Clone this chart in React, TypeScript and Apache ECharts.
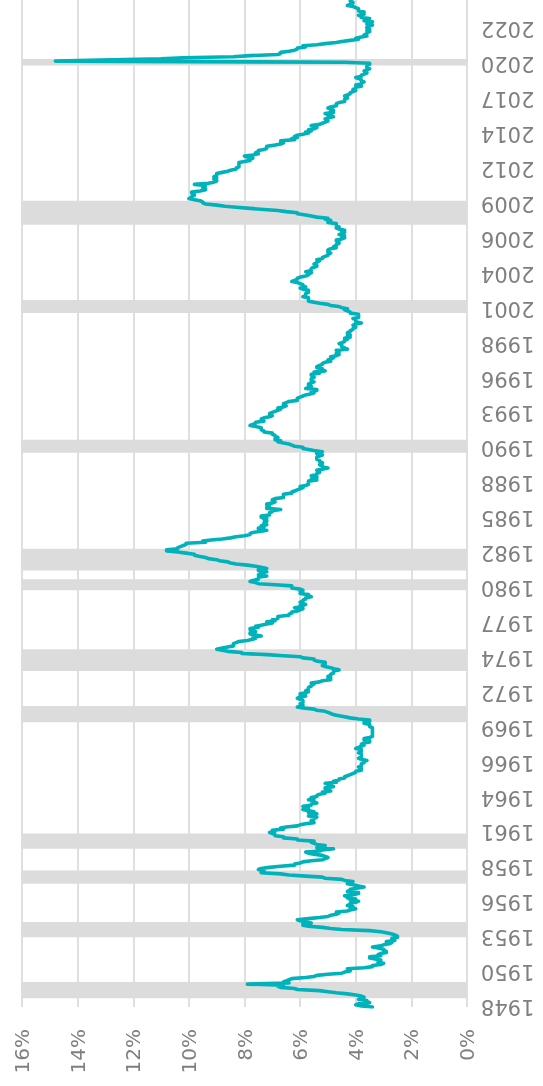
import React, { useEffect, useRef } from "react";
import * as echarts from "echarts";

// Monthly unemployment rate (%), Jan 1948 – Nov 2024
const ur1940s = [
  3.4, 3.8, 4.0, 3.9, 3.5, 3.6, 3.6, 3.9, 3.8, 3.7, 3.8, 4.0,
  4.3, 4.7, 5.0, 5.3, 6.1, 6.2, 6.7, 6.8, 6.6, 7.9, 6.4, 6.6,
];
const ur1950s = [
  6.5, 6.4, 6.3, 5.8, 5.5, 5.4, 5.0, 4.5, 4.4, 4.2, 4.2, 4.3,
  3.7, 3.4, 3.4, 3.1, 3.0, 3.2, 3.1, 3.1, 3.3, 3.5, 3.5, 3.1,
  3.2, 3.1, 2.9, 2.9, 3.0, 3.0, 3.2, 3.4, 3.1, 3.0, 2.8, 2.7,
  2.9, 2.6, 2.6, 2.7, 2.5, 2.5, 2.6, 2.7, 2.9, 3.1, 3.5, 4.5,
  4.9, 5.2, 5.7, 5.9, 5.9, 5.6, 5.8, 6.0, 6.1, 5.7, 5.3, 5.0,
  4.9, 4.7, 4.6, 4.7, 4.3, 4.2, 4.0, 4.2, 4.1, 4.3, 4.2, 4.2,
  4.0, 3.9, 4.2, 4.0, 4.3, 4.3, 4.4, 4.1, 3.9, 3.9, 4.3, 4.2,
  4.2, 3.9, 3.7, 3.9, 4.1, 4.3, 4.2, 4.1, 4.4, 4.5, 5.1, 5.2,
  5.8, 6.4, 6.7, 7.4, 7.4, 7.3, 7.5, 7.4, 7.1, 6.7, 6.2, 6.2,
  6.0, 5.9, 5.6, 5.2, 5.1, 5.0, 5.1, 5.2, 5.5, 5.7, 5.8, 5.3,
];
const ur1960s = [
  5.2, 4.8, 5.4, 5.2, 5.1, 5.4, 5.5, 5.6, 5.5, 6.1, 6.1, 6.6,
  6.6, 6.9, 6.9, 7.0, 7.1, 6.9, 7.0, 6.6, 6.7, 6.5, 6.1, 6.0,
  5.8, 5.5, 5.6, 5.6, 5.5, 5.5, 5.4, 5.7, 5.6, 5.4, 5.7, 5.5,
  5.7, 5.9, 5.7, 5.7, 5.9, 5.6, 5.6, 5.4, 5.5, 5.5, 5.7, 5.5,
  5.6, 5.4, 5.4, 5.3, 5.1, 5.2, 4.9, 5.0, 5.1, 5.1, 4.8, 5.0,
  4.9, 5.1, 4.7, 4.8, 4.6, 4.6, 4.4, 4.4, 4.3, 4.2, 4.1, 4.0,
  4.0, 3.8, 3.8, 3.8, 3.9, 3.8, 3.8, 3.8, 3.7, 3.7, 3.6, 3.8,
  3.9, 3.8, 3.8, 3.8, 3.8, 3.9, 3.8, 3.8, 3.8, 4.0, 3.9, 3.8,
  3.7, 3.8, 3.7, 3.5, 3.5, 3.7, 3.7, 3.5, 3.4, 3.4, 3.4, 3.4,
  3.4, 3.4, 3.4, 3.4, 3.4, 3.5, 3.5, 3.5, 3.7, 3.7, 3.5, 3.5,
];
const ur1970s = [
  3.9, 4.2, 4.4, 4.6, 4.8, 4.9, 5.0, 5.1, 5.4, 5.5, 5.9, 6.1,
  5.9, 5.9, 6.0, 5.9, 5.9, 5.9, 6.0, 6.1, 6.0, 5.8, 6.0, 6.0,
  5.8, 5.7, 5.8, 5.7, 5.7, 5.7, 5.6, 5.6, 5.5, 5.6, 5.3, 5.2,
  4.9, 5.0, 4.9, 5.0, 4.9, 4.9, 4.8, 4.8, 4.8, 4.6, 4.8, 4.9,
  5.1, 5.2, 5.1, 5.1, 5.1, 5.4, 5.5, 5.5, 5.9, 6.0, 6.6, 7.2,
  8.1, 8.1, 8.6, 8.8, 9.0, 8.8, 8.6, 8.4, 8.4, 8.4, 8.3, 8.2,
  7.9, 7.7, 7.6, 7.7, 7.4, 7.6, 7.8, 7.8, 7.6, 7.7, 7.8, 7.8,
  7.5, 7.6, 7.4, 7.2, 7.0, 7.2, 6.9, 7.0, 6.8, 6.8, 6.8, 6.4,
  6.4, 6.3, 6.3, 6.1, 6.0, 5.9, 6.2, 5.9, 6.0, 5.8, 5.9, 6.0,
  5.9, 5.9, 5.8, 5.8, 5.6, 5.7, 5.7, 6.0, 5.9, 6.0, 5.9, 6.0,
];
const ur1980s = [
  6.3, 6.3, 6.3, 6.9, 7.5, 7.6, 7.8, 7.7, 7.5, 7.5, 7.5, 7.2,
  7.5, 7.4, 7.4, 7.2, 7.5, 7.5, 7.2, 7.4, 7.6, 7.9, 8.3, 8.5,
  8.6, 8.9, 9.0, 9.3, 9.4, 9.6, 9.8, 9.8, 10.1, 10.4, 10.8, 10.8,
  10.4, 10.4, 10.3, 10.2, 10.1, 10.1, 9.4, 9.5, 9.2, 8.8, 8.5, 8.3,
  8.0, 7.8, 7.8, 7.7, 7.4, 7.2, 7.5, 7.5, 7.3, 7.4, 7.2, 7.3,
  7.3, 7.2, 7.2, 7.3, 7.2, 7.4, 7.4, 7.1, 7.1, 7.1, 7.0, 7.0,
  6.7, 7.2, 7.2, 7.1, 7.2, 7.2, 7.0, 6.9, 7.0, 7.0, 6.9, 6.6,
  6.6, 6.6, 6.6, 6.3, 6.3, 6.2, 6.1, 6.0, 5.9, 6.0, 5.8, 5.7,
  5.7, 5.7, 5.7, 5.4, 5.6, 5.4, 5.4, 5.6, 5.4, 5.4, 5.3, 5.3,
  5.4, 5.2, 5.0, 5.2, 5.2, 5.3, 5.2, 5.2, 5.3, 5.3, 5.4, 5.4,
];
const ur1990s = [
  5.4, 5.3, 5.2, 5.4, 5.4, 5.2, 5.5, 5.7, 5.9, 5.9, 6.2, 6.3,
  6.4, 6.6, 6.8, 6.7, 6.9, 6.9, 6.8, 6.9, 6.9, 7.0, 7.0, 7.3,
  7.3, 7.4, 7.4, 7.4, 7.6, 7.8, 7.7, 7.6, 7.6, 7.3, 7.4, 7.4,
  7.3, 7.1, 7.0, 7.1, 7.1, 7.0, 6.9, 6.8, 6.7, 6.8, 6.6, 6.5,
  6.6, 6.6, 6.5, 6.4, 6.1, 6.1, 6.1, 6.0, 5.9, 5.8, 5.6, 5.5,
  5.6, 5.4, 5.4, 5.8, 5.6, 5.6, 5.7, 5.7, 5.6, 5.5, 5.6, 5.6,
  5.6, 5.5, 5.5, 5.6, 5.6, 5.3, 5.5, 5.1, 5.2, 5.2, 5.4, 5.4,
  5.3, 5.2, 5.2, 5.1, 4.9, 5.0, 4.9, 4.8, 4.9, 4.7, 4.6, 4.7,
  4.6, 4.6, 4.7, 4.3, 4.4, 4.5, 4.5, 4.5, 4.6, 4.5, 4.4, 4.4,
  4.3, 4.4, 4.2, 4.3, 4.2, 4.3, 4.3, 4.2, 4.2, 4.1, 4.1, 4.0,
];
const ur2000s = [
  4.0, 4.1, 4.0, 3.8, 4.0, 4.0, 4.0, 4.1, 3.9, 3.9, 3.9, 3.9,
  4.2, 4.2, 4.3, 4.4, 4.3, 4.5, 4.6, 4.9, 5.0, 5.3, 5.5, 5.7,
  5.7, 5.7, 5.7, 5.9, 5.8, 5.8, 5.8, 5.7, 5.7, 5.7, 5.9, 6.0,
  5.8, 5.9, 5.9, 6.0, 6.1, 6.3, 6.2, 6.1, 6.1, 6.0, 5.8, 5.7,
  5.7, 5.6, 5.8, 5.6, 5.6, 5.6, 5.5, 5.4, 5.4, 5.5, 5.4, 5.4,
  5.3, 5.4, 5.2, 5.2, 5.1, 5.0, 5.0, 4.9, 5.0, 5.0, 5.0, 4.9,
  4.7, 4.8, 4.7, 4.7, 4.6, 4.6, 4.7, 4.7, 4.5, 4.4, 4.5, 4.4,
  4.6, 4.5, 4.4, 4.5, 4.4, 4.6, 4.7, 4.6, 4.7, 4.7, 4.7, 5.0,
  5.0, 4.9, 5.1, 5.0, 5.4, 5.6, 5.8, 6.1, 6.1, 6.5, 6.8, 7.3,
  7.8, 8.3, 8.7, 9.0, 9.4, 9.5, 9.5, 9.6, 9.8, 10.0, 9.9, 9.9,
];
const ur2010s = [
  9.8, 9.8, 9.9, 9.9, 9.6, 9.4, 9.4, 9.5, 9.5, 9.4, 9.8, 9.3,
  9.1, 9.0, 9.0, 9.1, 9.0, 9.1, 9.0, 9.0, 9.0, 8.8, 8.6, 8.5,
  8.3, 8.3, 8.2, 8.2, 8.2, 8.2, 8.2, 8.0, 7.8, 7.8, 7.7, 7.9,
  8.0, 7.7, 7.5, 7.6, 7.5, 7.5, 7.3, 7.2, 7.2, 7.2, 6.9, 6.7,
  6.6, 6.7, 6.7, 6.2, 6.3, 6.1, 6.2, 6.1, 5.9, 5.7, 5.8, 5.6,
  5.7, 5.5, 5.4, 5.4, 5.6, 5.3, 5.2, 5.1, 5.0, 5.0, 5.1, 5.0,
  4.8, 4.9, 5.0, 5.1, 4.8, 4.9, 4.8, 4.9, 5.0, 4.9, 4.7, 4.7,
  4.7, 4.6, 4.4, 4.4, 4.4, 4.3, 4.3, 4.4, 4.3, 4.2, 4.2, 4.1,
  4.0, 4.1, 4.0, 4.0, 3.8, 4.0, 3.8, 3.8, 3.7, 3.8, 3.8, 3.9,
  4.0, 3.8, 3.8, 3.7, 3.6, 3.6, 3.7, 3.6, 3.5, 3.6, 3.6, 3.6,
];
const ur2020s = [
  3.5, 3.5, 4.4, 14.8, 13.2, 11.0, 10.2, 8.4, 7.8, 6.8, 6.7, 6.7,
  6.4, 6.2, 6.1, 6.1, 5.8, 5.9, 5.4, 5.1, 4.7, 4.5, 4.2, 3.9,
  4.0, 3.8, 3.6, 3.7, 3.6, 3.6, 3.5, 3.6, 3.5, 3.6, 3.6, 3.5,
  3.4, 3.6, 3.5, 3.4, 3.7, 3.6, 3.5, 3.8, 3.8, 3.9, 3.7, 3.8,
  3.7, 3.9, 3.9, 3.9, 4.0, 4.1, 4.3, 4.2, 4.1, 4.1, 4.2,
];

// Shaded recession bands (visible extent, month categories)
const recessionBands = [
  ["1948-09", "1949-12"],
  ["1953-05", "1954-07"],
  ["1957-06", "1958-06"],
  ["1960-02", "1961-04"],
  ["1969-10", "1971-01"],
  ["1973-09", "1975-05"],
  ["1979-11", "1980-09"],
  ["1981-05", "1983-01"],
  ["1990-05", "1991-05"],
  ["2001-01", "2002-01"],
  ["2007-10", "2009-08"],
  ["2019-12", "2020-06"],
];

const firstYear = 1948;
const lastYear = 2024;

function buildMonths(a: number, b: number): string[] {
  const out: string[] = [];
  for (let y = a; y <= b; y++) {
    for (let m = 1; m <= 12; m++) {
      out.push(`${y}-${m < 10 ? "0" + m : m}`);
    }
  }
  return out;
}

const months = buildMonths(firstYear, lastYear);
const rates = [
  ...ur1940s,
  ...ur1950s,
  ...ur1960s,
  ...ur1970s,
  ...ur1980s,
  ...ur1990s,
  ...ur2000s,
  ...ur2010s,
  ...ur2020s,
];

const LABEL_COLOR = "#7f7f7f";
const FONT = "DejaVu Sans";

export default function App() {
  const ref = useRef<HTMLDivElement>(null);
  useEffect(() => {
    if (!ref.current) return;
    const chart = echarts.init(ref.current, undefined, { renderer: "svg" });
    chart.setOption({
      animation: false,
      grid: { left: 22, right: 76, top: 0, bottom: 79, containLabel: false },
      xAxis: {
        type: "value",
        inverse: true,
        min: 0,
        max: 16,
        interval: 2,
        position: "bottom",
        axisLine: { show: false },
        axisTick: { show: false },
        splitLine: { show: true, lineStyle: { color: "#dfdfdf", width: 2 } },
        axisLabel: {
          rotate: 90,
          margin: 22,
          color: LABEL_COLOR,
          fontSize: 20,
          fontFamily: FONT,
          formatter: "{value}%",
        },
      },
      yAxis: {
        type: "category",
        data: months,
        boundaryGap: false,
        position: "right",
        axisLine: { show: false },
        axisTick: { show: false },
        splitLine: { show: false },
        axisLabel: {
          interval: 31,
          rotate: 180,
          margin: 14,
          color: LABEL_COLOR,
          fontSize: 21,
          fontFamily: FONT,
          formatter: (v: string) => v.slice(0, 4),
        },
      },
      series: [
        {
          type: "line",
          data: rates.map((v, i) => [v, months[i]]),
          showSymbol: false,
          clip: false,
          lineStyle: { color: "#00b2b9", width: 3.6, join: "round", cap: "round" },
          itemStyle: { color: "#00b2b9" },
          markArea: {
            silent: true,
            itemStyle: { color: "#dcdcdd", opacity: 1 },
            data: recessionBands.map(([a, b]) => [
              { yAxis: a, xAxis: 16 },
              { yAxis: b, xAxis: -0.12 },
            ]),
          },
        },
      ],
    });
    return () => chart.dispose();
  }, []);
  return (
    <div
      ref={ref}
      style={{ position: "fixed", left: 0, top: 0, width: 543, height: 1086 }}
    />
  );
}
